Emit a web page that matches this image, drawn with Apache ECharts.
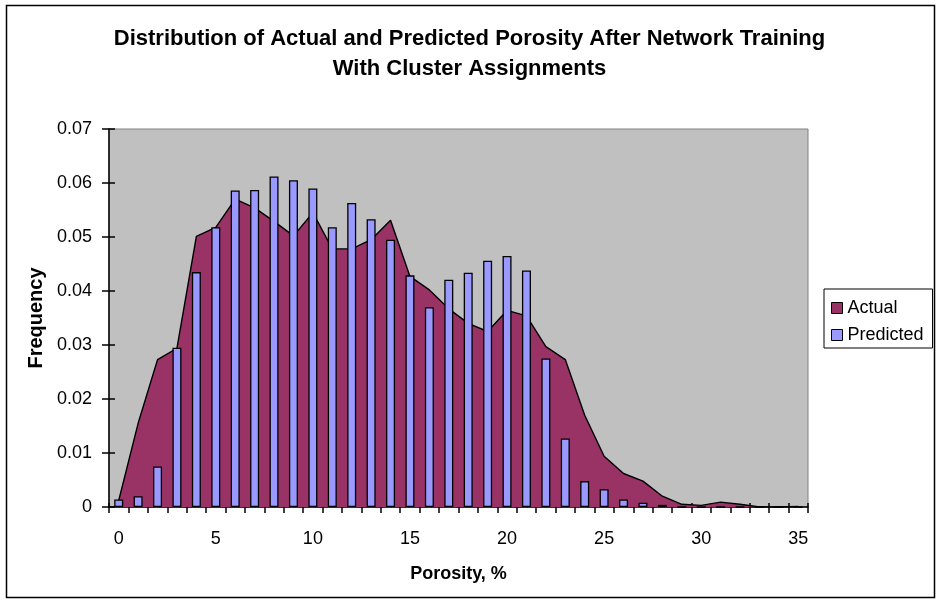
<!DOCTYPE html>
<html>
<head>
<meta charset="utf-8">
<script src="https://cdn.jsdelivr.net/npm/echarts@6/dist/echarts.min.js"></script>
<style>
  html, body { margin: 0; padding: 0; background: #ffffff; }
  #chart { width: 939px; height: 604px; }
</style>
</head>
<body>
<div id="chart"></div>
<script>
// Porosity classes (%), one per histogram bin
const porosity = ['0','1','2','3','4','5','6','7','8','9','10','11','12','13','14','15','16','17',
                  '18','19','20','21','22','23','24','25','26','27','28','29','30','31','32','33','34','35'];

// Frequency of measured porosity per bin
const actual = [0.0012, 0.0155, 0.0273, 0.0294, 0.0501, 0.0518, 0.0570, 0.0554, 0.0529, 0.0502,
                0.0545, 0.0478, 0.0478, 0.0495, 0.0531, 0.0427, 0.0402, 0.0367, 0.0340, 0.0325,
                0.0364, 0.0354, 0.0297, 0.0273, 0.0170, 0.0094, 0.0062, 0.0048, 0.0020, 0.0005,
                0.0003, 0.0009, 0.0005, 0.0000, 0.0000, 0.0001];

// Frequency of network-predicted porosity per bin
const predicted = [0.0014, 0.0020, 0.0075, 0.0295, 0.0435, 0.0518, 0.0586, 0.0587, 0.0612, 0.0605,
                   0.0590, 0.0518, 0.0563, 0.0533, 0.0495, 0.0429, 0.0370, 0.0421, 0.0434, 0.0456,
                   0.0465, 0.0438, 0.0275, 0.0127, 0.0048, 0.0033, 0.0014, 0.0008, 0.0004, 0,
                   0, 0, 0, 0, 0, 0];

// Frequency axis ticks
const freqTicks = { min: 0, max: 0.07, step: 0.01 };

const FONT = '"Liberation Sans", Arial, sans-serif';
const ACTUAL_COLOR = '#993366';
const PRED_COLOR = '#9999FF';

const chart = echarts.init(document.getElementById('chart'), null, { renderer: 'canvas' });

const grid = { left: 109, right: 131, top: 129, bottom: 97 };

chart.setOption({
  backgroundColor: '#ffffff',
  animation: false,
  textStyle: { fontFamily: FONT },
  title: {
    text: 'Distribution of Actual and Predicted Porosity After Network Training\nWith Cluster Assignments',
    left: 'center',
    top: 19,
    textStyle: { fontFamily: FONT, fontSize: 22, fontWeight: 'bold', color: '#000', lineHeight: 30 }
  },
  legend: {
    orient: 'vertical',
    left: 824,
    top: 289,
    padding: [10, 9, 4, 7],
    borderColor: '#000',
    borderWidth: 1,
    itemWidth: 11,
    itemHeight: 11,
    itemGap: 9,
    textStyle: { fontFamily: FONT, fontSize: 18, color: '#000' },
    data: [
      { name: 'Actual', icon: 'rect', itemStyle: { color: ACTUAL_COLOR, borderColor: '#000', borderWidth: 1 } },
      { name: 'Predicted', icon: 'rect', itemStyle: { color: PRED_COLOR, borderColor: '#000', borderWidth: 1 } }
    ]
  },
  grid: Object.assign({ show: true, backgroundColor: '#C0C0C0', borderColor: '#808080', borderWidth: 1 }, grid),
  xAxis: [
    {
      type: 'category',
      data: porosity,
      boundaryGap: true,
      name: 'Porosity, %',
      nameLocation: 'middle',
      nameGap: 58,
      nameTextStyle: { fontFamily: FONT, fontSize: 18, fontWeight: 'bold', color: '#000' },
      axisLine: { lineStyle: { color: '#000', width: 1.5 } },
      axisTick: { show: true, interval: 0, length: 6, lineStyle: { color: '#000', width: 1.5 } },
      axisLabel: {
        interval: (i) => i % 5 === 0,
        margin: 23,
        fontFamily: FONT, fontSize: 18, color: '#000'
      },
      splitLine: { show: false }
    },
    {
      // inner half of the crossing tick marks
      type: 'category',
      data: porosity,
      boundaryGap: true,
      position: 'bottom',
      axisLine: { show: false },
      axisTick: { show: true, inside: true, interval: 0, length: 4, lineStyle: { color: '#000', width: 1.5 } },
      axisLabel: { show: false },
      splitLine: { show: false }
    }
  ],
  yAxis: [
    {
      type: 'value',
      min: freqTicks.min,
      max: freqTicks.max,
      interval: freqTicks.step,
      name: 'Frequency',
      nameLocation: 'middle',
      nameGap: 60,
      nameRotate: 90,
      nameTextStyle: { fontFamily: FONT, fontSize: 20, fontWeight: 'bold', color: '#000' },
      axisLine: { show: true, lineStyle: { color: '#000', width: 1.5 } },
      axisTick: { show: true, length: 7, lineStyle: { color: '#000', width: 1.5 } },
      axisLabel: {
        margin: 17,
        fontFamily: FONT, fontSize: 18, color: '#000',
        formatter: (v) => (v === 0 ? '0' : v.toFixed(2))
      },
      splitLine: { show: false }
    },
    {
      // inner half of the crossing tick marks
      type: 'value',
      position: 'left',
      min: freqTicks.min,
      max: freqTicks.max,
      interval: freqTicks.step,
      axisLine: { show: false },
      axisTick: { show: true, inside: true, length: 6, lineStyle: { color: '#000', width: 1.5 } },
      axisLabel: { show: false },
      splitLine: { show: false }
    }
  ],
  series: [
    {
      name: 'Actual',
      type: 'line',
      data: actual,
      xAxisIndex: 0,
      yAxisIndex: 0,
      symbol: 'none',
      z: 2,
      lineStyle: { color: '#000', width: 1.4 },
      itemStyle: { color: ACTUAL_COLOR },
      areaStyle: { color: ACTUAL_COLOR, opacity: 1 }
    },
    {
      name: 'Predicted',
      type: 'bar',
      data: predicted,
      xAxisIndex: 0,
      yAxisIndex: 0,
      barWidth: 9,
      z: 3,
      itemStyle: { color: PRED_COLOR, borderColor: '#000', borderWidth: 1.3 }
    }
  ],
  graphic: [
    {
      type: 'rect',
      silent: true,
      shape: { x: 6.5, y: 5.5, width: 928, height: 592 },
      style: { fill: 'none', stroke: '#000', lineWidth: 1.5 }
    }
  ]
});
</script>
</body>
</html>
